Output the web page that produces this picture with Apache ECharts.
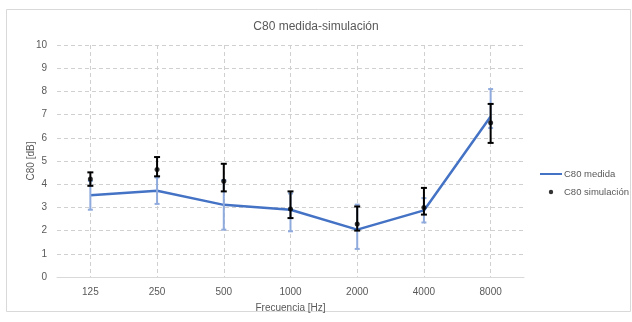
<!DOCTYPE html>
<html>
<head>
<meta charset="utf-8">
<script src="https://cdn.jsdelivr.net/npm/echarts@6/dist/echarts.min.js"></script>
<style>html,body{margin:0;padding:0;background:#fff}#c{width:632px;height:322px}</style>
</head>
<body>
<div id="c"></div>
<script>
const categories = ['125','250','500','1000','2000','4000','8000'];
const medida = [3.52, 3.72, 3.11, 2.90, 2.04, 2.87, 6.92];
const medidaLow = [2.90, 3.15, 2.04, 1.97, 1.21, 2.35, 6.42];
const medidaHigh = [4.14, 4.29, 4.18, 3.60, 3.12, 3.40, 8.10];
const simulacion = [4.22, 4.63, 4.13, 2.93, 2.28, 3.00, 6.65];
const simLow = [3.93, 4.34, 3.69, 2.54, 2.00, 2.69, 5.78];
const simHigh = [4.51, 5.17, 4.88, 3.69, 3.04, 3.84, 7.46];
const yTicks = [0,1,2,3,4,5,6,7,8,9,10];

const FONT = 'Liberation Sans';
const TXT = '#595959';

function errRender(color, cap, lw) {
  return function (params, api) {
    const i = api.value(0);
    const lo = api.coord([i, api.value(1)]);
    const hi = api.coord([i, api.value(2)]);
    const x = lo[0];
    const st = {stroke: color, lineWidth: lw};
    return {type: 'group', children: [
      {type: 'line', shape: {x1: x, y1: lo[1], x2: x, y2: hi[1]}, style: st},
      {type: 'line', shape: {x1: x - cap, y1: lo[1], x2: x + cap, y2: lo[1]}, style: st},
      {type: 'line', shape: {x1: x - cap, y1: hi[1], x2: x + cap, y2: hi[1]}, style: st}
    ]};
  };
}

const dotIcon = 'path://M0,0 L0.01,0 L0.01,0.01 Z M22,10 L21.99,10 L21.99,9.99 Z M11,2.8 A2.2,2.2 0 1,1 11,7.2 A2.2,2.2 0 1,1 11,2.8 Z';

const chart = echarts.init(document.getElementById('c'));
chart.setOption({
  animation: false,
  backgroundColor: '#fff',
  textStyle: {fontFamily: FONT},
  graphic: [{type: 'rect', shape: {x: 6.5, y: 9.5, width: 624, height: 302}, style: {fill: 'none', stroke: '#D9D9D9', lineWidth: 1}, z: -10}],
  title: {text: 'C80 medida-simulación', left: 'center', top: 16,
    textStyle: {fontFamily: FONT, fontSize: 12, fontWeight: 'normal', color: TXT}},
  legend: {
    orient: 'vertical', left: 535, top: 164, itemGap: 8, itemWidth: 22, itemHeight: 10,
    textStyle: {fontFamily: FONT, fontSize: 9.5, color: TXT, padding: [0, 0, 0, -3]},
    data: [
      {name: 'C80 medida', icon: 'path://M0,4 L22,4 L22,6 L0,6 Z'},
      {name: 'C80 simulación', icon: dotIcon}
    ]
  },
  grid: {left: 57, right: 108, top: 45, bottom: 45},
  xAxis: {
    type: 'category', data: categories, boundaryGap: true,
    name: 'Frecuencia [Hz]', nameLocation: 'middle', nameGap: 26, nameMoveOverlap: false,
    nameTextStyle: {fontFamily: FONT, fontSize: 10, color: TXT},
    axisLine: {lineStyle: {color: '#D9D9D9', width: 1}},
    axisTick: {show: false},
    axisLabel: {fontFamily: FONT, fontSize: 10, color: TXT, margin: 10},
    splitLine: {show: true, alignWithLabel: true, lineStyle: {color: '#D0D0D0', type: [4, 3], width: 1}}
  },
  yAxis: {
    type: 'value', min: 0, max: 10, interval: 1,
    name: 'C80 [dB]', nameLocation: 'middle', nameGap: 21, nameRotate: 90, nameMoveOverlap: false,
    nameTextStyle: {fontFamily: FONT, fontSize: 10, color: TXT},
    axisLine: {show: false}, axisTick: {show: false},
    axisLabel: {fontFamily: FONT, fontSize: 10, color: TXT, margin: 10,
      formatter: function (v) { return yTicks.indexOf(v) >= 0 ? String(v) : ''; }},
    splitLine: {lineStyle: {color: '#D0D0D0', type: [4, 3], width: 1}}
  },
  series: [
    {name: 'C80 medida', type: 'line', data: medida, symbol: 'none',
      lineStyle: {color: '#4472C4', width: 2.5}, itemStyle: {color: '#4472C4'}, z: 2},
    {name: 'medidaErr', type: 'custom', renderItem: errRender('#8FAADC', 2.5, 2),
      data: categories.map((c, i) => [i, medidaLow[i], medidaHigh[i]]),
      encode: {x: 0, y: [1, 2]}, z: 3, silent: true},
    {name: 'simErr', type: 'custom', renderItem: errRender('#000000', 3, 2),
      data: categories.map((c, i) => [i, simLow[i], simHigh[i]]),
      encode: {x: 0, y: [1, 2]}, z: 4, silent: true},
    {name: 'C80 simulación', type: 'scatter', data: simulacion, symbol: 'circle', symbolSize: 5,
      itemStyle: {color: '#000000'}, z: 5}
  ]
});
</script>
</body>
</html>
